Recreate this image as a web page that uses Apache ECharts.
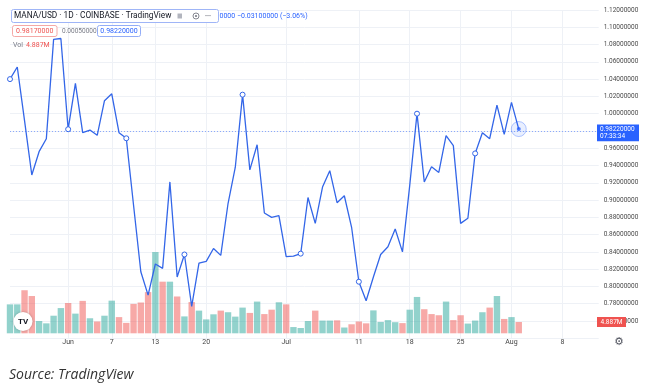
<!DOCTYPE html>
<html><head><meta charset="utf-8">
<script src="https://cdn.jsdelivr.net/npm/echarts@6/dist/echarts.min.js"></script>
<style>html,body{margin:0;padding:0;background:#fff}#c{width:646px;height:385px}</style>
</head><body><div id="c"></div>
<script>
// ---- data ----
const startDate = '2022-05-24';
const dayCount = 82; // May 24 .. Aug 13 (axis span)
const prices = [1.040,1.054,0.992,0.929,0.956,0.971,1.086,1.087,0.982,1.035,0.978,0.981,0.975,1.015,1.023,0.978,0.9715,0.894,0.817,0.790,0.826,0.821,0.921,0.811,0.837,0.777,0.827,0.829,0.844,0.836,0.896,0.938,1.022,0.935,0.964,0.885,0.880,0.882,0.8345,0.835,0.838,0.903,0.873,0.915,0.934,0.897,0.905,0.8685,0.8055,0.7835,0.811,0.837,0.846,0.8665,0.840,0.917,1.000,0.921,0.9386,0.932,0.9745,0.963,0.873,0.879,0.954,0.978,0.971,1.010,0.976,1.013,0.9822];
const volumes = [12.5,12.5,18.6,16.1,5.3,4.3,7.6,10.9,13.1,8.5,14.0,6.5,5.1,7.6,14.1,7.0,4.5,12.7,13.3,17.8,35.1,22.3,22.3,15.9,7.3,13.5,9.8,6.0,8.2,9.8,9.1,7.2,11.1,8.8,13.7,8.3,10.2,13.4,12.5,2.7,2.3,5.3,9.8,5.5,5.5,5.6,2.5,3.9,5.1,4.3,9.9,4.9,5.7,4.8,4.4,10.2,15.7,10.4,8.3,7.8,13.7,5.7,7.8,4.2,5.5,9.1,11.1,16.1,6.2,7.0,4.887];
const volDir = ['u','u','d','d','u','u','u','u','d','u','d','u','d','u','u','d','d','d','d','d','u','d','u','d','u','d','u','u','u','d','u','u','u','d','u','d','d','u','d','u','u','u','d','u','u','d','u','d','d','d','u','u','u','u','d','u','u','d','d','d','u','d','d','u','u','u','d','u','d','u','d'];
const markerDates = ['2022-05-24','2022-06-01','2022-06-09','2022-06-17','2022-06-25','2022-07-03','2022-07-11','2022-07-19','2022-07-27'];
const tickDates = ['2022-06-01','2022-06-07','2022-06-13','2022-06-20','2022-07-01','2022-07-11','2022-07-18','2022-07-25','2022-08-01','2022-08-08'];
const tickLabels = ['Jun','7','13','20','Jul','11','18','25','Aug','8'];
const lastPrice = 0.9822;
const lastVolumeText = '4.887M';
const headerTitle = 'MANA/USD · 1D · COINBASE · TradingView';
const headerChange = '0000 −0.03100000 (−3.06%)';
const bidText = '0.98170000', spreadText = '0.00050000', askText = '0.98220000';
const countdownText = '07:33:34';

// categories: consecutive days
const categories = [];
{
  const s = new Date(startDate + 'T00:00:00Z');
  for (let i = 0; i < dayCount; i++) {
    const d = new Date(s.getTime() + i * 86400000);
    categories.push(d.toISOString().slice(0, 10));
  }
}

const BLUE = '#2962ff', LINE = '#3366e8', TEAL = 'rgba(38,166,154,0.5)', RED = 'rgba(239,83,80,0.5)';
const GRID_C = '#eef1f6';
const FONT = 'Roboto';
const tickFn = (idx, val) => tickDates.indexOf(val) >= 0;

const lastIdx = prices.length - 1;
const lineData = prices.map((v, i) => {
  if (markerDates.indexOf(categories[i]) >= 0) {
    return {value: v, symbol: 'circle', symbolSize: 5, itemStyle: {color: '#fff', borderColor: LINE, borderWidth: 1}};
  }
  if (i === lastIdx) {
    return {value: v, symbol: 'circle', symbolSize: 15, itemStyle: {color: 'rgba(41,98,255,0.10)', borderColor: 'rgba(41,98,255,0.35)', borderWidth: 1}};
  }
  return v;
});
const dotData = prices.map((v, i) => i === lastIdx ? v : null);

const chart = echarts.init(document.getElementById('c'), null, {renderer: 'canvas'});
chart.setOption({
  animation: false,
  backgroundColor: '#fff',
  textStyle: {fontFamily: FONT},
  grid: [
    {left: 10, right: 47.3, top: 10, height: 328.3},
    {left: 10, right: 47.3, top: 194.4, height: 138.9}
  ],
  xAxis: [
    {gridIndex: 0, type: 'category', data: categories, boundaryGap: false,
     axisLine: {show: false}, axisTick: {show: false}, axisLabel: {show: false, interval: tickFn},
     splitLine: {show: true, interval: tickFn, lineStyle: {color: GRID_C, width: 1}}},
    {gridIndex: 1, type: 'category', data: categories, boundaryGap: false,
     axisLine: {show: false}, axisTick: {show: false},
     axisLabel: {interval: tickFn, formatter: (v) => tickLabels[tickDates.indexOf(v)], fontSize: 7, color: '#444', margin: 5, fontFamily: FONT},
     splitLine: {show: false}}
  ],
  yAxis: [
    {gridIndex: 0, type: 'value', position: 'right', min: 0.74, max: 1.12, interval: 0.02,
     axisLine: {show: false}, axisTick: {show: false},
     axisLabel: {showMinLabel: false, formatter: (v) => v.toFixed(8), fontSize: 6.5, color: '#4a4a4a', margin: 5, fontFamily: FONT},
     splitLine: {show: true, lineStyle: {color: GRID_C, width: 1}}},
    {gridIndex: 1, type: 'value', min: 0, max: 60, show: false, splitLine: {show: false}}
  ],
  series: [
    {type: 'bar', xAxisIndex: 1, yAxisIndex: 1, barWidth: '88%', silent: true, clip: true, z: 1,
     data: volumes.map((v, i) => ({value: v, itemStyle: {color: volDir[i] === 'u' ? TEAL : RED}}))},
    {type: 'line', xAxisIndex: 0, yAxisIndex: 0, data: lineData, symbol: 'none', showAllSymbol: true,
     lineStyle: {color: LINE, width: 1.3}, silent: true, clip: true, z: 3,
     markLine: {silent: true, symbol: ['none', 'none'], label: {show: false},
       lineStyle: {color: BLUE, type: [1, 2], width: 1, opacity: 0.5}, data: [{yAxis: lastPrice}]}},
    {type: 'scatter', xAxisIndex: 0, yAxisIndex: 0, data: dotData, symbolSize: 4, itemStyle: {color: BLUE}, silent: true, z: 4}
  ]
});

// overlay decorations positioned from the scales
const py = chart.convertToPixel({xAxisIndex: 0, yAxisIndex: 0}, [categories[lastIdx], lastPrice])[1];
const vy = chart.convertToPixel({xAxisIndex: 1, yAxisIndex: 1}, [categories[lastIdx], volumes[lastIdx]])[1];
const t = (text, x, y, fill, size, extra) => Object.assign({type: 'text', x: x, y: y, z: 101,
  style: Object.assign({text: text, fill: fill, font: size + 'px ' + FONT, verticalAlign: 'middle', align: 'left'}, extra || {})});
chart.setOption({graphic: [
  {type: 'rect', z: 100, shape: {x: 11.5, y: 9.5, width: 207, height: 13, r: 2}, style: {fill: '#fff', stroke: '#9fb5f7', lineWidth: 1}},
  t(headerTitle, 14, 16.2, '#131722', 8.3),
  {type: 'rect', z: 101, shape: {x: 177.5, y: 13.5, width: 4.5, height: 5}, style: {fill: '#b2b5be'}},
  {type: 'circle', z: 101, shape: {cx: 196, cy: 16, r: 3}, style: {fill: 'none', stroke: '#787b86', lineWidth: 0.9}},
  {type: 'circle', z: 101, shape: {cx: 196, cy: 16, r: 1.1}, style: {fill: '#787b86'}},
  t('•••', 205, 16, '#787b86', 6),
  t(headerChange, 219.5, 16.2, BLUE, 7),
  {type: 'rect', z: 100, shape: {x: 12.5, y: 25.5, width: 44.5, height: 11, r: 2}, style: {fill: '#fff', stroke: '#f5a9a7', lineWidth: 1}},
  t(bidText, 34.7, 31, '#ef5350', 7, {align: 'center'}),
  t(spreadText, 62, 31, '#787b86', 6.5),
  {type: 'rect', z: 100, shape: {x: 97.5, y: 25.5, width: 43, height: 11, r: 2}, style: {fill: '#fff', stroke: '#93adf7', lineWidth: 1}},
  t(askText, 119, 31, BLUE, 7, {align: 'center'}),
  t('Vol', 13, 45, '#787b86', 7),
  t(lastVolumeText, 26, 45, '#ef5350', 7),
  {type: 'rect', z: 100, shape: {x: 597, y: py - 4.6, width: 42, height: 16.8}, style: {fill: BLUE}},
  t(lastPrice.toFixed(8), 600, py + 0.2, '#fff', 6.5),
  t(countdownText, 600, py + 7.6, '#fff', 6.5),
  {type: 'rect', z: 100, shape: {x: 597, y: vy - 5, width: 29, height: 10}, style: {fill: '#ef5350'}},
  t(lastVolumeText, 611.5, vy, '#fff', 6.5, {align: 'center'}),
  {type: 'circle', z: 100, shape: {cx: 23, cy: 321.5, r: 9.5}, style: {fill: '#fff', shadowBlur: 3, shadowColor: 'rgba(0,0,0,0.25)'}},
  t('TV', 23, 321.8, '#131722', 8, {align: 'center', font: 'bold 8px ' + FONT}),
  t('⚙', 619, 342.5, '#50535e', 11, {align: 'center', font: '11px "DejaVu Sans"'}),
  t('Source: TradingView', 9, 375, '#333', 14, {font: 'italic 14px "Open Sans"'})
]});
</script></body></html>
